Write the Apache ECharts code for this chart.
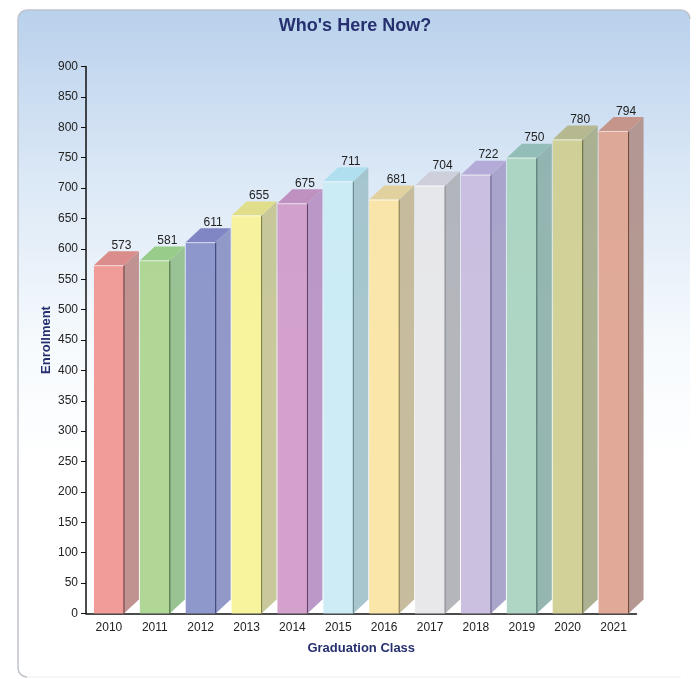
<!DOCTYPE html>
<html>
<head>
<meta charset="utf-8">
<style>html,body{margin:0;padding:0;background:#fff}#c{width:699px;height:679px}</style>
<script src="https://cdn.jsdelivr.net/npm/echarts@6/dist/echarts.min.js"></script>
</head>
<body>
<div id="c"></div>
<script>
const categories = ['2010','2011','2012','2013','2014','2015','2016','2017','2018','2019','2020','2021'];
const enrollment = [573,581,611,655,675,711,681,704,722,750,780,794];
const frontColors = ['#f09490','#abd48e','#8790c7','#f8f296','#d09ac8','#c9ebf4','#fbe4a4','#e6e6e8','#c8bbde','#a9d3c0','#cfcf90','#dfa490'];
const sideColors  = ['#bd8d8b','#95c08e','#8c94c6','#c5c595','#b692c4','#a2c3cb','#c4b898','#b0b2b8','#a5a0c8','#8fb2ad','#a8ad8c','#b1928c'];
const topColors   = ['#d98784','#93c984','#7a80c0','#dfdc85','#bd8cbd','#aedfee','#e0d09a','#ccced8','#b3a8d6','#8fbcb4','#b4b68a','#c48f84'];
const edgeColors  = ['#5e3838','#3f5f38','#2f3570','#7a7844','#5f3c68','#5a7a84','#7f7248','#7f8086','#5f5880','#426860','#5f6038','#6a4538'];

const FONT = '"Liberation Sans", Arial, sans-serif';
const chart = echarts.init(document.getElementById('c'), null, {renderer:'canvas'});
const BAR = 30, DX = 15, DY = 14;

function renderBar(params, api) {
  const i = api.value(0);
  const top = api.coord([i, api.value(1)]);
  const base = api.coord([i, 0]);
  const x0 = top[0] - BAR / 2, x1 = top[0] + BAR / 2, y1 = top[1], y0 = base[1];
  return {
    type: 'group',
    children: [
      { type:'polygon', shape:{points:[[x1,y0],[x1+DX,y0-DY],[x1+DX,y1-DY],[x1,y1]]},
        style:{fill:sideColors[i], opacity:0.95} },
      { type:'polygon', shape:{points:[[x0,y1],[x0+DX,y1-DY],[x1+DX,y1-DY],[x1,y1]]},
        style:{fill:topColors[i], opacity:0.95} },
      { type:'rect', shape:{x:x0, y:y1, width:BAR, height:y0-y1},
        style:{fill:frontColors[i], opacity:0.93} },
      { type:'line', shape:{x1:x1, y1:y1, x2:x1, y2:y0}, style:{stroke:edgeColors[i], lineWidth:1} },
      { type:'line', shape:{x1:x0, y1:y1+0.5, x2:x1, y2:y1+0.5}, style:{stroke:'rgba(255,255,255,0.6)', lineWidth:1} },
      { type:'text', style:{x:top[0]+12.5, y:y1-19.5, text:String(api.value(1)), fill:'#222',
        font:'12px ' + FONT, align:'center', verticalAlign:'middle'} }
    ]
  };
}

const borderStyle = {fill:null, stroke:'#bfc4cc', lineWidth:1.5};
const faintStyle = {fill:null, stroke:'#eceef1', lineWidth:1};

chart.setOption({
  animation:false,
  backgroundColor:'#fff',
  graphic:[{
    type:'rect', z:-10, silent:true,
    shape:{x:18, y:10, width:672, height:667, r:9},
    style:{
      fill:new echarts.graphic.LinearGradient(0,0,0,1,[
        {offset:0,color:'#b9d1ec'},
        {offset:0.25,color:'#dbe8f6'},
        {offset:0.5,color:'#f6fafd'},
        {offset:0.68,color:'#ffffff'},
        {offset:1,color:'#ffffff'}])
    }
  },
  {type:'line', z:-9, silent:true, shape:{x1:27,y1:10,x2:681,y2:10}, style:borderStyle},
  {type:'line', z:-9, silent:true, shape:{x1:18,y1:19,x2:18,y2:668}, style:borderStyle},
  {type:'arc', z:-9, silent:true, shape:{cx:27,cy:19,r:9,startAngle:Math.PI,endAngle:1.5*Math.PI,clockwise:true}, style:borderStyle},
  {type:'arc', z:-9, silent:true, shape:{cx:681,cy:19,r:9,startAngle:1.5*Math.PI,endAngle:2*Math.PI,clockwise:true}, style:borderStyle},
  {type:'arc', z:-9, silent:true, shape:{cx:27,cy:668,r:9,startAngle:0.5*Math.PI,endAngle:Math.PI,clockwise:true}, style:borderStyle},
  {type:'line', z:-9, silent:true, shape:{x1:27,y1:677,x2:681,y2:677}, style:faintStyle}
  ],
  title:{
    text:"Who's Here Now?", left:350, top:11, textAlign:'center',
    textStyle:{fontFamily:FONT, fontSize:18, fontWeight:'bold', color:'#27306f', lineHeight:20}
  },
  grid:{left:86, right:62.5, top:66.5, bottom:65.5},
  xAxis:{
    type:'category', data:categories,
    name:'Graduation Class', nameLocation:'middle', nameGap:28, nameMoveOverlap:false,
    nameTextStyle:{fontFamily:FONT, fontSize:13, fontWeight:'bold', color:'#27306f'},
    axisLine:{lineStyle:{color:'#111',width:1.5}},
    axisTick:{alignWithLabel:true,length:5,lineStyle:{color:'#111'}},
    axisLabel:{fontFamily:FONT,fontSize:12,color:'#222',margin:8,interval:0}
  },
  yAxis:{
    type:'value', min:0, max:900, interval:50,
    name:'Enrollment', nameLocation:'middle', nameGap:33, nameRotate:90, nameMoveOverlap:false,
    nameTextStyle:{fontFamily:FONT, fontSize:13, fontWeight:'bold', color:'#27306f'},
    axisLine:{show:true,lineStyle:{color:'#111',width:1.5}},
    axisTick:{show:true,length:5,lineStyle:{color:'#111'}},
    axisLabel:{fontFamily:FONT,fontSize:12,color:'#222',margin:8},
    splitLine:{show:false}
  },
  series:[{
    type:'custom', clip:false, z:1,
    encode:{x:0,y:1},
    data:enrollment.map((v,i)=>[i,v]),
    renderItem:renderBar
  }]
});
</script>
</body>
</html>
